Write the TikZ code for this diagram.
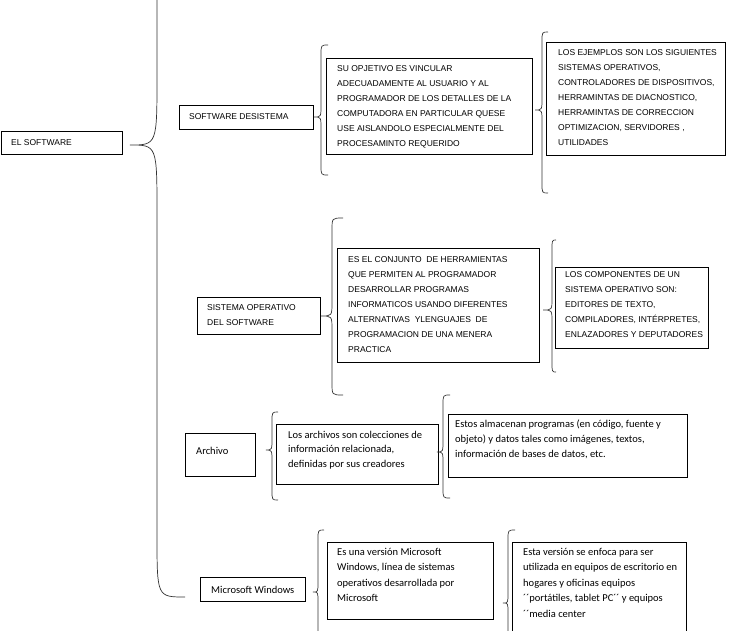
\documentclass[tikz,border=0pt]{standalone}
\usepackage{fontspec}
\setmainfont{Liberation Sans}
\newfontfamily\calfont{Carlito}
\newcommand{\mybrace}[8]{%
\draw[brc] (#1,#2) .. controls (#3,#2) .. (#3,#2+#7) -- (#3,#5-#8) .. controls (#3,#5) .. (#4,#5) .. controls (#3,#5) .. (#3,#5+#8) -- (#3,#6-#7) .. controls (#3,#6) .. (#1,#6);}
\newcommand{\capstxt}[1]{\parbox[t]{260pt}{\raggedright\fontsize{8.5}{15}\selectfont #1}}
\newcommand{\lowtxt}[2]{\parbox[t]{260pt}{\raggedright\calfont\fontsize{10.5}{#1}\selectfont #2}}
\begin{document}
\begin{tikzpicture}[x=1pt,y=-1pt,
  box/.style={draw=black,line width=0.8pt,inner sep=0pt,anchor=north west},
  brc/.style={draw=black!80,line width=0.7pt},
  txt/.style={inner sep=0pt,anchor=base west}]
\clip (0,0) rectangle (729,630);
\fill[white] (0,0) rectangle (729,630);
% boxes
\node[box,minimum width=121.5pt,minimum height=23pt] (soft) at (0.5,131) {};
\node[box,minimum width=134pt,minimum height=24pt] (sds) at (179,105) {};
\node[box,minimum width=206pt,minimum height=96pt] (obj) at (326,58) {};
\node[box,minimum width=179pt,minimum height=113pt] (ej) at (546,42) {};
\node[box,minimum width=123pt,minimum height=37pt] (so) at (197,297) {};
\node[box,minimum width=202pt,minimum height=114pt] (conj) at (337,248) {};
\node[box,minimum width=153pt,minimum height=81pt] (comp) at (555,267) {};
\node[box,minimum width=70pt,minimum height=43pt] (arch) at (185,433) {};
\node[box,minimum width=162pt,minimum height=60pt] (col) at (276,424) {};
\node[box,minimum width=239pt,minimum height=63pt] (alm) at (448,414) {};
\node[box,minimum width=105pt,minimum height=24pt] (mw) at (200,577) {};
\node[box,minimum width=166pt,minimum height=77pt] (ver) at (327,542) {};
\node[box,minimum width=174pt,minimum height=100pt] (enf) at (512,542) {};
% texts
\node[txt] (soft-t) at (11,145) {\capstxt{EL SOFTWARE}};
\node[txt] (sds-t) at (189,119) {\capstxt{SOFTWARE DESISTEMA}};
\node[txt] (obj-t) at (337,71) {\capstxt{SU OPJETIVO ES VINCULAR\\ADECUADAMENTE AL USUARIO Y AL\\PROGRAMADOR DE LOS DETALLES DE LA\\COMPUTADORA EN PARTICULAR QUESE\\USE AISLANDOLO ESPECIALMENTE DEL\\PROCESAMINTO REQUERIDO}};
\node[txt] (ej-t) at (558,55) {\capstxt{LOS EJEMPLOS SON LOS SIGUIENTES\\SISTEMAS OPERATIVOS,\\CONTROLADORES DE DISPOSITIVOS,\\HERRAMINTAS DE DIACNOSTICO,\\HERRAMINTAS DE CORRECCION\\OPTIMIZACION, SERVIDORES ,\\UTILIDADES}};
\node[txt] (so-t) at (207,310) {\capstxt{SISTEMA OPERATIVO\\DEL SOFTWARE}};
\node[txt] (conj-t) at (348,262) {\capstxt{ES EL CONJUNTO\ \ DE HERRAMIENTAS\\QUE PERMITEN AL PROGRAMADOR\\DESARROLLAR PROGRAMAS\\INFORMATICOS USANDO DIFERENTES\\ALTERNATIVAS\ \ YLENGUAJES\ \ DE\\PROGRAMACION DE UNA MENERA\\PRACTICA}};
\node[txt] (comp-t) at (565,277) {\capstxt{LOS COMPONENTES DE UN\\SISTEMA OPERATIVO SON:\\EDITORES DE TEXTO,\\COMPILADORES, INTÉRPRETES,\\ENLAZADORES Y DEPUTADORES}};
\node[txt] (arch-t) at (196,454) {\lowtxt{15}{Archivo}};
\node[txt] (col-t) at (288,438) {\lowtxt{14.5}{Los archivos son colecciones de\\información relacionada,\\definidas por sus creadores}};
\node[txt] (alm-t) at (455,427) {\lowtxt{15}{Estos almacenan programas (en código, fuente y\\objeto) y datos tales como imágenes, textos,\\información de bases de datos, etc.}};
\node[txt] (mw-t) at (211,593) {\lowtxt{15}{Microsoft Windows}};
\node[txt] (ver-t) at (337,555) {\lowtxt{15.5}{Es una versión Microsoft\\Windows, línea de sistemas\\operativos desarrollada por\\Microsoft}};
\node[txt] (enf-t) at (523,555) {\lowtxt{15.5}{Esta versión se enfoca para ser\\utilizada en equipos de escritorio en\\hogares y oficinas equipos\\´´portátiles, tablet PC´´ y equipos\\´´media center}};
% braces
\draw[brc] (157,-10) -- (157,75) .. controls (157,145) .. (130,145) .. controls (157,145) .. (157,215) -- (157,535) .. controls (157,597) .. (185,597);
\mybrace{328}{45}{321}{314}{117}{175}{10}{12}
\mybrace{548}{32}{542}{535}{110}{193}{10}{12}
\mybrace{343}{218}{332}{321}{316}{395}{12}{14}
\mybrace{556}{240}{552}{543}{310}{372}{10}{12}
\mybrace{278}{412}{272}{266}{450}{500}{10}{12}
\mybrace{450}{395}{443}{437}{452}{498}{10}{12}
\mybrace{324}{530}{318}{313}{592}{700}{10}{10}
\mybrace{515}{530}{508}{503}{603}{700}{10}{10}
\end{tikzpicture}
\end{document}
